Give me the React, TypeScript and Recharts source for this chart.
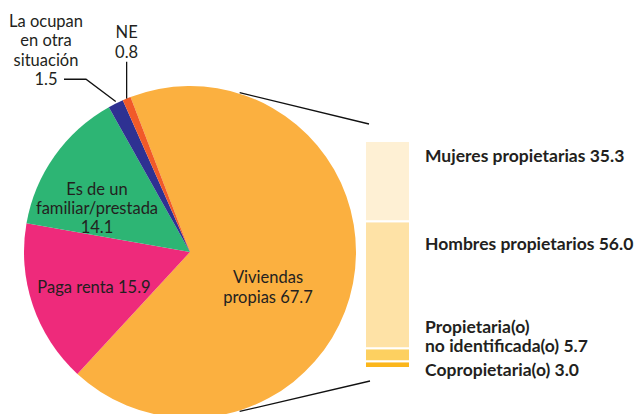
import { PieChart, Pie, Cell, BarChart, Bar, XAxis, YAxis, LabelList } from 'recharts'

// Vivienda por situación de tenencia (%)
const tenureNames = [
  'Viviendas propias',
  'Paga renta',
  'Es de un familiar/prestada',
  'La ocupan en otra situación',
  'NE',
]
const tenureShares = [67.7, 15.9, 14.1, 1.5, 0.8]
const tenureColors = ['#FBB040', '#EE2A7B', '#2DB574', '#2E3192', '#F15A29']
const tenureLabelLines = [
  ['Viviendas', 'propias 67.7'],
  ['Paga renta 15.9'],
  ['Es de un', 'familiar/prestada', '14.1'],
  ['La ocupan', 'en otra', 'situación', '1.5'],
  ['NE', '0.8'],
]

// Viviendas propias por sexo de la persona propietaria (%)
const ownerNames = [
  'Copropietaria(o)',
  'Propietaria(o) no identificada(o)',
  'Hombres propietarios',
  'Mujeres propietarias',
]
const ownerShares = [3.0, 5.7, 56.0, 35.3]
const ownerColors = ['#FBB61B', '#FDD060', '#FEE2A6', '#FEF0D4']
const ownerLabelLines = [
  ['Copropietaria(o) 3.0'],
  ['Propietaria(o)', 'no identificada(o) 5.7'],
  ['Hombres propietarios 56.0'],
  ['Mujeres propietarias 35.3'],
]

const W = 638
const H = 414
const CX = 190
const CY = 252
const R = 166
const START = 111
const FONT = 'Lato, "Open Sans", sans-serif'
const INK = '#231F20'

// where each slice's text sits, as offset from the pie centre
const labelSpots = [
  { dx: 78, dy: 35, lh: 20, lead: false },
  { dx: -96, dy: 35, lh: 20, lead: false },
  { dx: -93, dy: -44, lh: 19, lead: false },
  { dx: -144, dy: -202, lh: 19.5, lead: true },
  { dx: -63, dy: -210, lh: 19.5, lead: true },
]

const RAD = Math.PI / 180

const tenureData = tenureNames.map((name, i) => ({ name, value: tenureShares[i] }))
const ownerRow = [
  ownerNames.reduce<Record<string, number | string>>(
    (row, name, i) => {
      row[name] = ownerShares[i]
      return row
    },
    { name: 'Viviendas propias' }
  ),
]

function SliceLabel(props: any) {
  const { cx, cy, midAngle, outerRadius, index } = props
  const spot = labelSpots[index]
  const lines = tenureLabelLines[index]
  const x = cx + spot.dx
  const top = cy + spot.dy - ((lines.length - 1) * spot.lh) / 2
  const edgeX = cx + Math.cos(midAngle * RAD) * outerRadius
  const edgeY = cy - Math.sin(midAngle * RAD) * outerRadius
  const lastY = top + (lines.length - 1) * spot.lh
  let leader = null
  if (spot.lead && index === 3) {
    leader = (
      <polyline
        points={`${x + 18},${lastY} ${x + 40},${lastY} ${edgeX},${edgeY - 2}`}
        fill="none"
        stroke="#111"
        strokeWidth={1.3}
      />
    )
  } else if (spot.lead) {
    leader = <line x1={edgeX} y1={lastY + 10} x2={edgeX} y2={edgeY} stroke="#111" strokeWidth={1.3} />
  }
  return (
    <g>
      {lines.map((t, i) => (
        <text
          key={i}
          x={index === 4 ? edgeX : x}
          y={top + i * spot.lh}
          textAnchor="middle"
          dominantBaseline="central"
          fontSize={16.5}
          fontFamily={FONT}
          fill={INK}
        >
          {t}
        </text>
      ))}
      {leader}
    </g>
  )
}

function ownerLabel(i: number, offset: number) {
  return (p: any) => {
    const { x, y, width } = p
    const lines = ownerLabelLines[i]
    return (
      <g>
        {lines.map((t, k) => (
          <text
            key={k}
            x={Number(x) + Number(width) + 15}
            y={Number(y) + offset + k * 19.5}
            dominantBaseline="central"
            fontSize={17.5}
            fontWeight={700}
            fontFamily={FONT}
            fill={INK}
          >
            {t}
          </text>
        ))}
      </g>
    )
  }
}

const ownerLabelOffsets = [8, -22, 22, 14]

const BAR_LEFT = 365
const BAR_TOP = 141
const BAR_W = 45
const BAR_H = 227
const BAR_PAD = 30

export default function App() {
  const a = 72.6 * RAD
  const topX = CX + Math.cos(a) * R
  const topY = CY - Math.sin(a) * R
  const botY = CY + Math.sin(a) * R
  return (
    <div style={{ position: 'absolute', left: 0, top: 0, width: W, height: H, background: '#fff', overflow: 'hidden' }}>
      <PieChart width={W} height={H} margin={{ top: 0, right: 0, bottom: 0, left: 0 }}>
        <Pie
          data={tenureData}
          dataKey="value"
          nameKey="name"
          cx={CX}
          cy={CY}
          outerRadius={R}
          startAngle={START}
          endAngle={START - 360}
          stroke="none"
          label={SliceLabel}
          labelLine={false}
          isAnimationActive={false}
        >
          {tenureData.map((d, i) => (
            <Cell key={d.name} fill={tenureColors[i]} />
          ))}
        </Pie>
      </PieChart>
      <svg width={W} height={H} style={{ position: 'absolute', left: 0, top: 0 }}>
        <line x1={topX} y1={topY - 1} x2={BAR_LEFT + 4} y2={BAR_TOP - 17} stroke="#111" strokeWidth={1.3} />
        <line x1={topX} y1={botY + 1} x2={BAR_LEFT + 5} y2={BAR_TOP + BAR_H + 13} stroke="#111" strokeWidth={1.3} />
      </svg>
      <div style={{ position: 'absolute', left: BAR_LEFT, top: BAR_TOP }}>
        <BarChart
          width={W - BAR_LEFT}
          height={BAR_H + BAR_PAD}
          data={ownerRow}
          margin={{ top: 0, right: W - BAR_LEFT - BAR_W, bottom: BAR_PAD, left: 0 }}
          barCategoryGap={0}
        >
          <XAxis dataKey="name" hide />
          <YAxis hide domain={[0, 100]} />
          {ownerNames.map((name, i) => (
            <Bar
              key={name}
              dataKey={name}
              stackId="own"
              fill={ownerColors[i]}
              stroke="#fff"
              strokeWidth={2}
              isAnimationActive={false}
            >
              <LabelList dataKey={name} content={ownerLabel(i, ownerLabelOffsets[i])} />
            </Bar>
          ))}
        </BarChart>
      </div>
    </div>
  )
}
